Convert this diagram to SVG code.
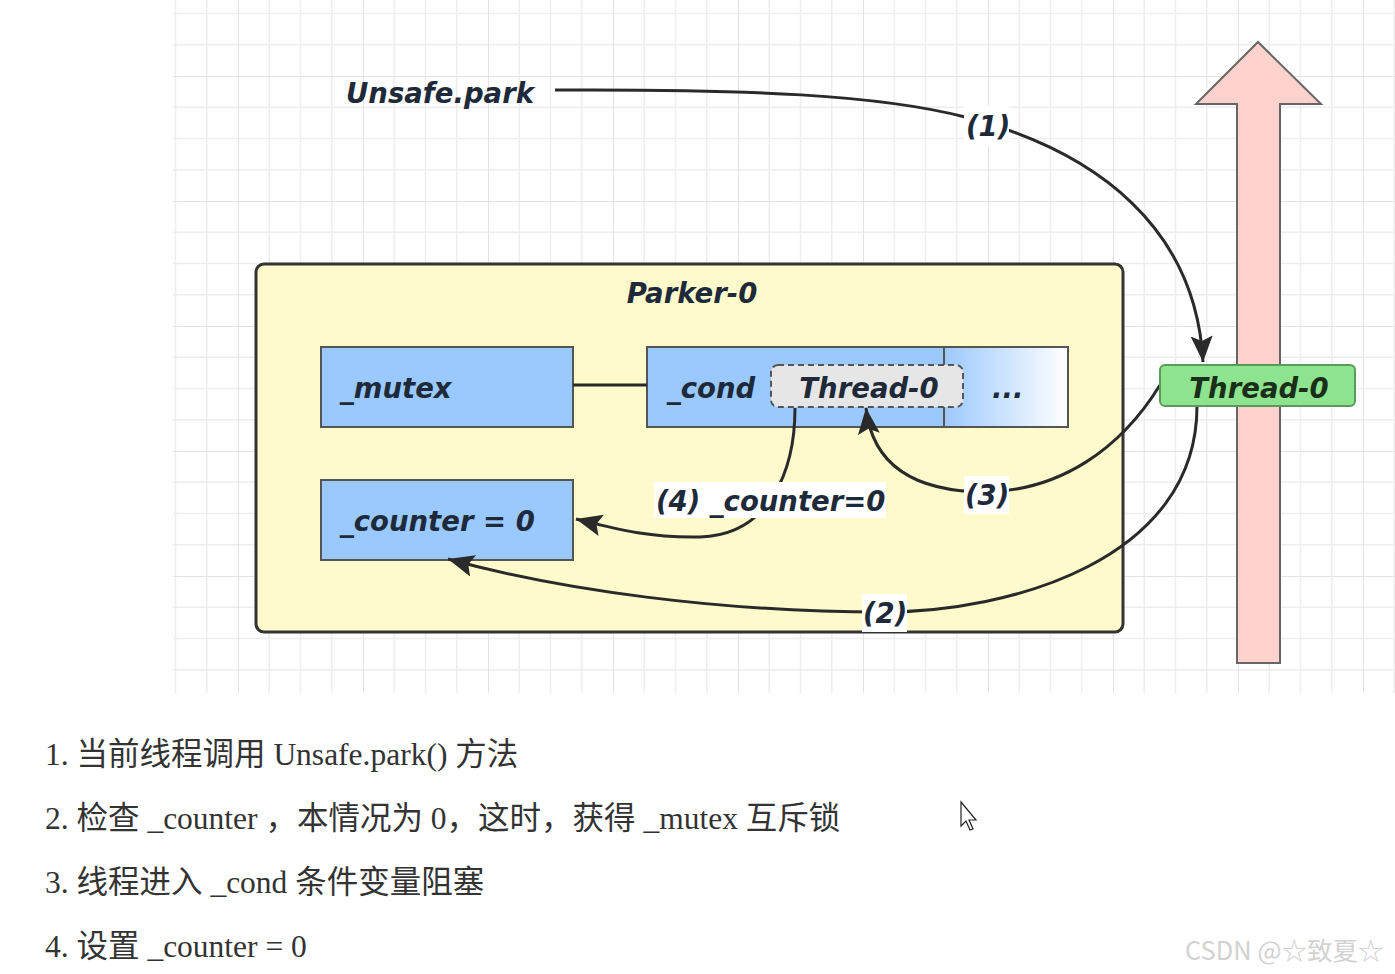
<svg xmlns="http://www.w3.org/2000/svg" width="1395" height="974" viewBox="0 0 1395 974">
  <defs>
    <pattern id="grid" patternUnits="userSpaceOnUse" x="238" y="76" width="125" height="125">
      <path d="M31.25 0V125M62.5 0V125M93.75 0V125M0 31.25H125M0 62.5H125M0 93.75H125" stroke="#eeeeee" stroke-width="1.5" fill="none"/>
      <path d="M0 0V125M0 0H125" stroke="#e3e3e3" stroke-width="2" fill="none"/>
    </pattern>
    <linearGradient id="fade" x1="0" y1="0" x2="1" y2="0">
      <stop offset="0" stop-color="#9ccaff"/>
      <stop offset="1" stop-color="#ffffff"/>
    </linearGradient>
    <marker id="ah" markerUnits="userSpaceOnUse" markerWidth="30" markerHeight="30" refX="26" refY="11" orient="auto">
      <path d="M0 0L26 11L0 22L5 11Z" fill="#2a2a2a"/>
    </marker>
    <style>
      .lbl{font-family:"DejaVu Sans","Open Sans",sans-serif;font-weight:bold;font-style:italic;font-size:27.5px;fill:#1e2a3a}
      .box{fill:#99c9ff;stroke:#555;stroke-width:2}
      .con{fill:none;stroke:#2a2a2a;stroke-width:3}
      .tag{fill:#ffffff}
      .txt{font-family:"Liberation Serif","Noto Sans CJK SC",serif;font-size:31.5px;fill:#333}
    </style>
  </defs>
  <rect width="1395" height="974" fill="#ffffff"/>
  <rect x="173" y="0" width="1222" height="693" fill="url(#grid)"/>

  <g id="bigarrow">
    <path d="M1237 663V104H1196L1258 42L1321 104H1280V663Z" fill="#ffd2ce" stroke="#666" stroke-width="2"/>
  </g>

  <g id="unsafe-park">
    <text class="lbl" x="346" y="103">Unsafe.park</text>
  </g>

  <g id="parker">
    <rect x="256" y="264" width="867" height="368" rx="8" fill="#fffacb" stroke="#333" stroke-width="3"/>
    <text class="lbl" x="692" y="303" text-anchor="middle">Parker-0</text>
  </g>

  <g id="mutex">
    <rect class="box" x="321" y="347" width="252" height="80"/>
    <text class="lbl" x="340" y="398">_mutex</text>
  </g>

  <g id="counter">
    <rect class="box" x="321" y="480" width="252" height="80"/>
    <text class="lbl" x="340" y="531">_counter = 0</text>
  </g>

  <g id="cond">
    <rect x="944" y="347" width="124" height="80" fill="url(#fade)" stroke="#555" stroke-width="2"/>
    <rect class="box" x="647" y="347" width="297" height="80"/>
    <text class="lbl" x="667" y="398">_cond</text>
    <text class="lbl" x="992" y="398">...</text>
  </g>

  <g id="cond-thread">
    <rect x="771" y="365" width="192" height="42" rx="7" fill="#e6e6e6" stroke="#555" stroke-width="2" stroke-dasharray="6 4"/>
    <text class="lbl" x="869" y="398" text-anchor="middle">Thread-0</text>
  </g>

  <g id="connectors">
    <line x1="573" y1="385" x2="647" y2="385" stroke="#2a2a2a" stroke-width="3"/>
    <path class="con" d="M555 90C750 89 880 95 965 117C1100 152 1196 230 1203 362" marker-end="url(#ah)"/>
    <path class="con" d="M1197 406C1197 560 1010 612 883 612C720 612 560 590 448 559" marker-end="url(#ah)"/>
    <path class="con" d="M1160 385C1120 450 1060 490 987 492C910 492 872 462 866 408" marker-end="url(#ah)"/>
    <path class="con" d="M795 408C795 470 770 535 700 537C650 538 620 530 576 519" marker-end="url(#ah)"/>
    <rect class="tag" x="964" y="106" width="45" height="40"/>
    <text class="lbl" x="966" y="136">(1)</text>
    <rect class="tag" x="862" y="594" width="45" height="38"/>
    <text class="lbl" x="863" y="623">(2)</text>
    <rect class="tag" x="964" y="476" width="45" height="38"/>
    <text class="lbl" x="965" y="505">(3)</text>
    <rect class="tag" x="654" y="482" width="232" height="36"/>
    <svg x="654" y="470" width="232" height="60" overflow="hidden">
      <text class="lbl" x="2" y="41">(4) _counter=0</text>
    </svg>
  </g>

  <g id="thread0">
    <rect x="1160" y="365" width="195" height="41" rx="5" fill="#8ee48e" stroke="#5a9a5a" stroke-width="2"/>
    <text class="lbl" x="1259" y="398" text-anchor="middle" style="fill:#1a2e1a">Thread-0</text>
  </g>

  <g id="steps">
    <text class="txt" x="45" y="765">1. 当前线程调用 Unsafe.park() 方法</text>
    <text class="txt" x="45" y="829">2. 检查 _counter ，本情况为 0，这时，获得 _mutex 互斥锁</text>
    <text class="txt" x="45" y="893">3. 线程进入 _cond 条件变量阻塞</text>
    <text class="txt" x="45" y="957">4. 设置 _counter = 0</text>
  </g>

  <g id="cursor">
    <path d="M961 802V826L966 821L970 830L973 829L969 820L976 820Z" fill="#ffffff" stroke="#222" stroke-width="1.2"/>
  </g>

  <g id="watermark">
    <text x="1185" y="960" style="font-family:'Noto Sans CJK SC','Noto Sans',sans-serif;font-size:25.5px;fill:#d2d2d2">CSDN @☆致夏☆</text>
  </g>
</svg>
